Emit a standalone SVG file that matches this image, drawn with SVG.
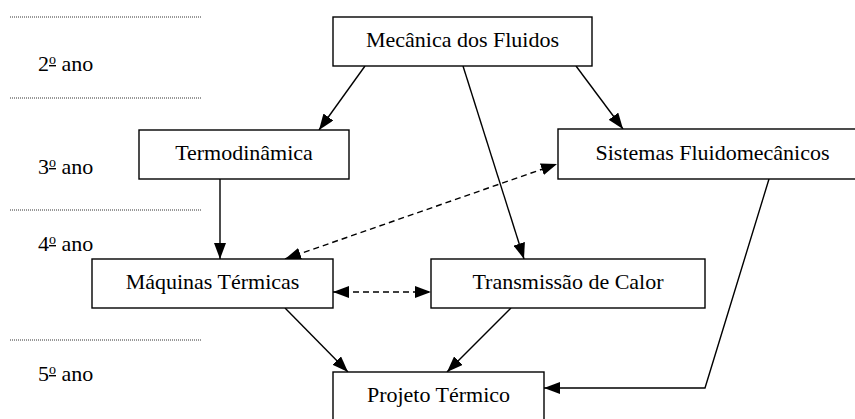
<svg xmlns="http://www.w3.org/2000/svg" width="855" height="419" viewBox="0 0 855 419">
<style>
.box{fill:#fff;stroke:#000;stroke-width:1.4}
.lbl{font-family:"Liberation Serif","Times New Roman",serif;font-size:22px;fill:#000;text-anchor:middle}
.yr{font-family:"Liberation Serif","Times New Roman",serif;font-size:22px;fill:#000}
.sup{font-size:14px;text-decoration:underline}
.dot{stroke:#333;stroke-width:1;stroke-dasharray:1,1;fill:none}
.c{stroke:#000;stroke-width:1.4;fill:none;marker-end:url(#ah)}
.d{stroke:#000;stroke-width:1.4;fill:none;stroke-dasharray:6,4;marker-end:url(#ah);marker-start:url(#ah)}
</style>
<defs>
<marker id="ah" markerUnits="userSpaceOnUse" markerWidth="16" markerHeight="12" refX="16" refY="6" orient="auto-start-reverse">
<path d="M0,0 L16,6 L0,12 z" fill="#000"/>
</marker>
</defs>
<g id="years">
<line class="dot" x1="10" y1="17" x2="202" y2="17"/>
<line class="dot" x1="10" y1="98" x2="202" y2="98"/>
<line class="dot" x1="10" y1="210" x2="202" y2="210"/>
<line class="dot" x1="10" y1="340" x2="202" y2="340"/>
<text class="yr" x="38" y="71">2<tspan class="sup" dy="-7">o</tspan><tspan dy="7"> ano</tspan></text>
<text class="yr" x="38" y="174">3<tspan class="sup" dy="-7">o</tspan><tspan dy="7"> ano</tspan></text>
<text class="yr" x="38" y="251">4<tspan class="sup" dy="-7">o</tspan><tspan dy="7"> ano</tspan></text>
<text class="yr" x="38" y="381">5<tspan class="sup" dy="-7">o</tspan><tspan dy="7"> ano</tspan></text>
</g>
<g id="connectors">
<line class="c" x1="365" y1="66" x2="319" y2="130"/>
<line class="c" x1="463" y1="66" x2="524" y2="259"/>
<line class="c" x1="576" y1="66" x2="623" y2="129"/>
<line class="c" x1="220" y1="179" x2="220" y2="259"/>
<line class="d" x1="285" y1="259" x2="557" y2="164"/>
<line class="d" x1="333" y1="292" x2="431" y2="292"/>
<line class="c" x1="285" y1="308" x2="348" y2="372"/>
<line class="c" x1="511" y1="308" x2="447" y2="372"/>
<polyline class="c" points="769,179 705,388 544,388"/>
</g>
<g id="mecanica">
<rect class="box" x="333" y="17" width="259" height="49"/>
<text class="lbl" x="462.5" y="47">Mecânica dos Fluidos</text>
</g>
<g id="termodinamica">
<rect class="box" x="139" y="130" width="210" height="49"/>
<text class="lbl" x="244" y="160">Termodinâmica</text>
</g>
<g id="sistemas">
<rect class="box" x="558" y="129" width="309" height="50"/>
<text class="lbl" x="712.5" y="160">Sistemas Fluidomecânicos</text>
</g>
<g id="maquinas">
<rect class="box" x="92" y="259" width="241" height="49"/>
<text class="lbl" x="212.5" y="289">Máquinas Térmicas</text>
</g>
<g id="transmissao">
<rect class="box" x="431" y="259" width="274" height="49"/>
<text class="lbl" x="568" y="289">Transmissão de Calor</text>
</g>
<g id="projeto">
<rect class="box" x="333" y="372" width="211" height="49"/>
<text class="lbl" x="438.5" y="402">Projeto Térmico</text>
</g>
</svg>
